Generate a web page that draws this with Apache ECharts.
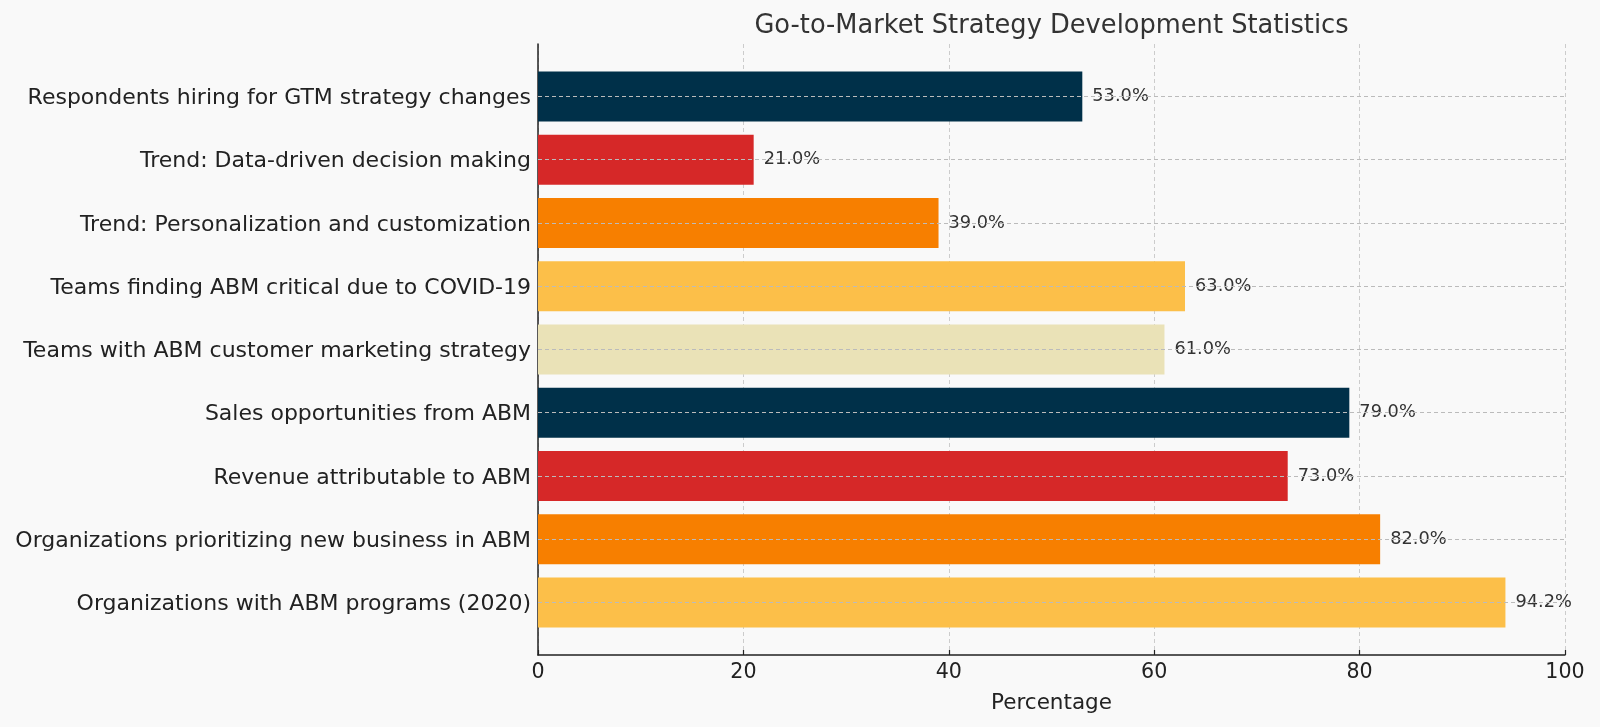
<!DOCTYPE html>
<html><head><meta charset="utf-8">
<script src="https://cdn.jsdelivr.net/npm/echarts@6/dist/echarts.min.js"></script>
<style>html,body{margin:0;padding:0;background:#f9f9f9}#c{width:1600px;height:727px}</style>
</head><body><div id="c"></div>
<script>
const categories = [
  "Organizations with ABM programs (2020)",
  "Organizations prioritizing new business in ABM",
  "Revenue attributable to ABM",
  "Sales opportunities from ABM",
  "Teams with ABM customer marketing strategy",
  "Teams finding ABM critical due to COVID-19",
  "Trend: Personalization and customization",
  "Trend: Data-driven decision making",
  "Respondents hiring for GTM strategy changes"
];
const values = [94.2, 82, 73, 79, 61, 63, 39, 21, 53];
const colors = ["#FCBF49", "#F77F00", "#D62828", "#003049", "#EAE2B7", "#FCBF49", "#F77F00", "#D62828", "#003049"];
const xTicks = [0, 20, 40, 60, 80, 100];

const font = "DejaVu Sans";
const chart = echarts.init(document.getElementById('c'), null, {renderer: 'canvas'});
chart.setOption({
  backgroundColor: '#f9f9f9',
  animation: false,
  title: {
    text: 'Go-to-Market Strategy Development Statistics',
    left: 1046.5, top: 8, textAlign: 'center',
    textStyle: {fontFamily: font, fontSize: 25.7, fontWeight: 'normal', color: '#333'}
  },
  grid: [
    {left: 538, width: 1027, top: 44, height: 611},
    {left: 538, width: 1027, top: 64.8, height: 569.3}
  ],
  xAxis: [
    {
      gridIndex: 0, type: 'value', min: xTicks[0], max: xTicks[xTicks.length - 1], interval: 20,
      name: 'Percentage', nameLocation: 'middle', nameGap: 37,
      nameTextStyle: {fontFamily: font, fontSize: 21.5, color: '#222'},
      axisLine: {show: true, lineStyle: {color: '#222', width: 1.5}},
      axisTick: {show: true, inside: true, length: 5, lineStyle: {color: '#222', width: 1.2}},
      axisLabel: {fontFamily: font, fontSize: 20.6, color: '#222', margin: 7},
      splitLine: {show: true, lineStyle: {color: '#cccccc', type: [4, 3], width: 1}}
    },
    {gridIndex: 1, type: 'value', min: 0, max: 100, show: false, splitLine: {show: false}}
  ],
  yAxis: [
    {
      gridIndex: 0, type: 'value', min: 0, max: 1,
      axisLine: {show: true, onZero: false, lineStyle: {color: '#222', width: 1.5}},
      axisTick: {show: false}, axisLabel: {show: false}, splitLine: {show: false}
    },
    {
      gridIndex: 1, type: 'category', data: categories,
      axisLine: {show: false},
      axisTick: {show: true, inside: true, alignWithLabel: true, length: 5, lineStyle: {color: '#222', width: 1.2}},
      axisLabel: {
        margin: 7,
        formatter: v => '{a|' + v + '}',
        rich: {a: {fontFamily: font, fontSize: 22, color: '#222', padding: [4, 0, 0, 0]}}
      },
      splitLine: {show: false}
    }
  ],
  series: [
    {
      type: 'bar', xAxisIndex: 1, yAxisIndex: 1, barWidth: 50,
      data: values.map((v, i) => ({value: v, itemStyle: {color: colors[i]}})),
      label: {
        show: true, position: 'right', distance: 10,
        formatter: p => p.value.toFixed(1) + '%',
        fontFamily: font, fontSize: 17.8, color: '#333'
      },
      z: 2
    },
    {
      type: 'line', xAxisIndex: 1, yAxisIndex: 1, silent: true, symbol: 'none',
      data: [], z: 3,
      markLine: {
        silent: true, symbol: 'none', label: {show: false},
        lineStyle: {color: '#bbbbbb', type: [4, 3], width: 1},
        data: categories.map(c => [{coord: [0, c]}, {coord: [100, c]}])
      }
    }
  ]
});
</script></body></html>
